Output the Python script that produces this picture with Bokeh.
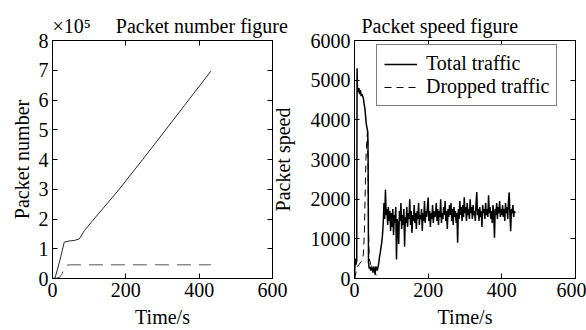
from bokeh.plotting import figure
from bokeh.layouts import row
from bokeh.models import Range1d, LinearAxis, FixedTicker, CustomJSTickFormatter, Legend
from bokeh.embed import file_html
from bokeh.resources import INLINE

FONT = "Liberation Serif"

# ---------------- data ----------------
# Left chart: cumulative packet number
cum_time = [0, 7, 20, 32, 45, 60, 73, 87, 120, 178, 246, 300, 360, 432]
cum_total = [0, 2000, 60000, 122000, 126000, 128000, 133000, 161000, 210000,
             294000, 400000, 486000, 582000, 697000]
cum_drop_time = [0, 10, 20, 26, 30, 34, 38, 50, 432]
cum_drop = [0, 1000, 4000, 15000, 30000, 40000, 45000, 46000, 46000]

# Right chart: packet speed
speed_time_early = [0, 2, 4, 6, 7, 8, 10, 12, 14, 16, 18, 20, 22, 24, 26, 28, 30, 32,
                    34, 36, 37, 38, 40, 42, 44, 46, 48, 50, 52, 54, 56, 58, 60, 62,
                    64, 66, 68, 70, 72, 74, 76, 78]
speed_total_early = [0, 500, 350, 450, 5300, 4750, 4700, 4800, 4650, 4750, 4600, 4650,
                     4600, 4550, 4400, 4300, 4100, 3900, 3800, 3700, 3000, 400, 250,
                     300, 200, 300, 250, 150, 300, 250, 100, 300, 250, 200, 300, 400,
                     550, 650, 800, 900, 1100, 1400]
speed_time_late = list(range(80, 437, 2))
speed_total_late = [
    1900, 1500, 2240, 1600, 1750, 1350, 1800, 1450, 1700, 1200,
    1650, 1300, 1750, 1100, 1600, 1400, 1800, 480, 1500, 1350,
    870, 1700, 1450, 1900, 1250, 1600, 1350, 1750, 800, 1550,
    1400, 1800, 1300, 1650, 1500, 2000, 1350, 1700, 1150, 1600,
    1450, 1850, 1400, 1650, 1250, 1700, 1500, 1900, 1350, 1600,
    1500, 1750, 1200, 1650, 1450, 1950, 1400, 1700, 1550, 1800,
    2040, 1450, 1700, 1300, 1650, 1500, 1850, 1400, 1700, 1550,
    1600, 1900, 1450, 1750, 1350, 1700, 1550, 2000, 1400, 1650,
    1500, 1800, 1600, 1950, 1450, 1700, 1250, 1750, 1550, 1850,
    1600, 1900, 1450, 1750, 1350, 1800, 1550, 1700, 1400, 1650,
    900, 1750, 1500, 1950, 1600, 1800, 1450, 1850, 1550, 2050,
    1650, 1800, 1450, 1900, 1600, 1750, 1500, 2000, 1650, 1800,
    1500, 1850, 1600, 1700, 1450, 1900, 2180, 1600, 1750, 1450,
    1800, 1550, 1700, 1300, 1850, 1650, 1750, 1500, 1900, 1600,
    1750, 1550, 2100, 1650, 1800, 1500, 1700, 1400, 1850, 1600,
    1030, 1750, 1600, 1900, 1500, 1800, 1650, 1950, 1550, 1750,
    1600, 1850, 1550, 1750, 1450, 1900, 1650, 1800, 1500, 1950,
    2170, 1600, 1190, 1750, 1650, 1850, 1550, 1700, 1650]
speed_time = speed_time_early + speed_time_late
speed_total = speed_total_early + speed_total_late

drop_time = [0, 4, 8, 12, 16, 20, 24, 27, 29, 31, 33, 35, 36, 37, 38, 40, 44, 48,
             52, 56, 60, 64, 200, 436]
drop_speed = [0, 150, 300, 350, 400, 450, 600, 1200, 2200, 3000, 3400, 3700, 3650,
              2800, 1200, 500, 350, 300, 300, 150, 50, 0, 0, 0]

x_ticks = [0, 200, 400, 600]
left_y_ticks = [0, 100000, 200000, 300000, 400000, 500000, 600000, 700000, 800000]
right_y_ticks = [0, 1000, 2000, 3000, 4000, 5000, 6000]

NBSP = "\u00a0"
left_title = "\u00d710\u2075" + NBSP * 5 + "Packet number figure"
right_title = "Packet speed figure"

BLANK = CustomJSTickFormatter(code="return '';")


def style_axis(ax, ticks, show_labels=True):
    ax.ticker = FixedTicker(ticks=ticks)
    ax.major_tick_in = 5
    ax.major_tick_out = 0
    ax.minor_tick_in = 0
    ax.minor_tick_out = 0
    ax.axis_line_color = "black"
    ax.axis_line_width = 1
    ax.major_tick_line_color = "black"
    ax.major_label_text_font = FONT
    ax.major_label_text_color = "black"
    ax.major_label_standoff = 4
    ax.axis_label_text_font = FONT
    ax.axis_label_text_font_style = "normal"
    ax.axis_label_text_font_size = "20px"
    ax.axis_label_text_color = "black"
    if show_labels:
        ax.major_label_text_font_size = "20px"
    else:
        ax.formatter = BLANK
        ax.major_label_text_font_size = "1px"
        ax.major_label_standoff = 0


def make_fig(width, borders, yr, yticks, xlabel, ylabel, title, title_offset,
             title_standoff, ylab_standoff):
    p = figure(width=width, height=330, x_range=Range1d(0, 600), y_range=Range1d(*yr),
               output_backend="svg", toolbar_location=None,
               min_border_left=borders[0], min_border_right=borders[1],
               min_border_top=borders[2], min_border_bottom=borders[3])
    p.grid.visible = False
    p.outline_line_color = "black"
    p.background_fill_color = "white"
    p.title.text = title
    p.title.text_font = FONT
    p.title.text_font_size = "20px"
    p.title.text_font_style = "normal"
    p.title.text_color = "black"
    p.title.align = "left"
    p.title.offset = title_offset
    p.title.standoff = title_standoff
    style_axis(p.xaxis[0], x_ticks)
    style_axis(p.yaxis[0], yticks)
    p.xaxis[0].axis_label = xlabel
    p.yaxis[0].axis_label = ylabel
    p.xaxis[0].axis_label_standoff = 6
    p.yaxis[0].axis_label_standoff = ylab_standoff
    top = LinearAxis()
    style_axis(top, x_ticks, show_labels=False)
    p.add_layout(top, "above")
    right = LinearAxis()
    style_axis(right, yticks, show_labels=False)
    p.add_layout(right, "right")
    return p


# ---------------- left figure ----------------
p1 = make_fig(292, (52, 20, 38, 52), (0, 800000), left_y_ticks, "Time/s", "Packet number",
              left_title, 0, 7, 3)
p1.border_fill_color = "white"
p1.yaxis[0].formatter = CustomJSTickFormatter(code="return (tick / 100000).toFixed(0);")
p1.line(cum_time, cum_total, line_color="#2a2a2a", line_width=1)
p1.line(cum_drop_time, cum_drop, line_color="#555555", line_width=1, line_dash="14 8")

# ---------------- right figure ----------------
p2 = make_fig(322, (90, 11, 40, 51), (0, 6000), right_y_ticks, "Time/s", "Packet speed",
              right_title, 7, 8, 14)
p2.border_fill_alpha = 0
p2.margin = (0, 0, 0, -28)
r1 = p2.line(speed_time, speed_total, line_color="black", line_width=1.5)
r2 = p2.line(drop_time, drop_speed, line_color="black", line_width=1, line_dash="7 5")
legend = Legend(items=[("Total traffic", [r1]), ("Dropped traffic", [r2])],
                location=(22, 172))
legend.label_text_font = FONT
legend.label_text_font_size = "20px"
legend.label_text_color = "black"
legend.glyph_width = 33
legend.glyph_height = 20
legend.label_standoff = 9
legend.padding = 7
legend.spacing = 0
legend.margin = 0
legend.border_line_color = "black"
legend.border_line_width = 1.5
legend.background_fill_color = "white"
legend.background_fill_alpha = 1
p2.add_layout(legend)

layout = row(p1, p2)
open("out.html", "w").write(file_html(layout, INLINE))
